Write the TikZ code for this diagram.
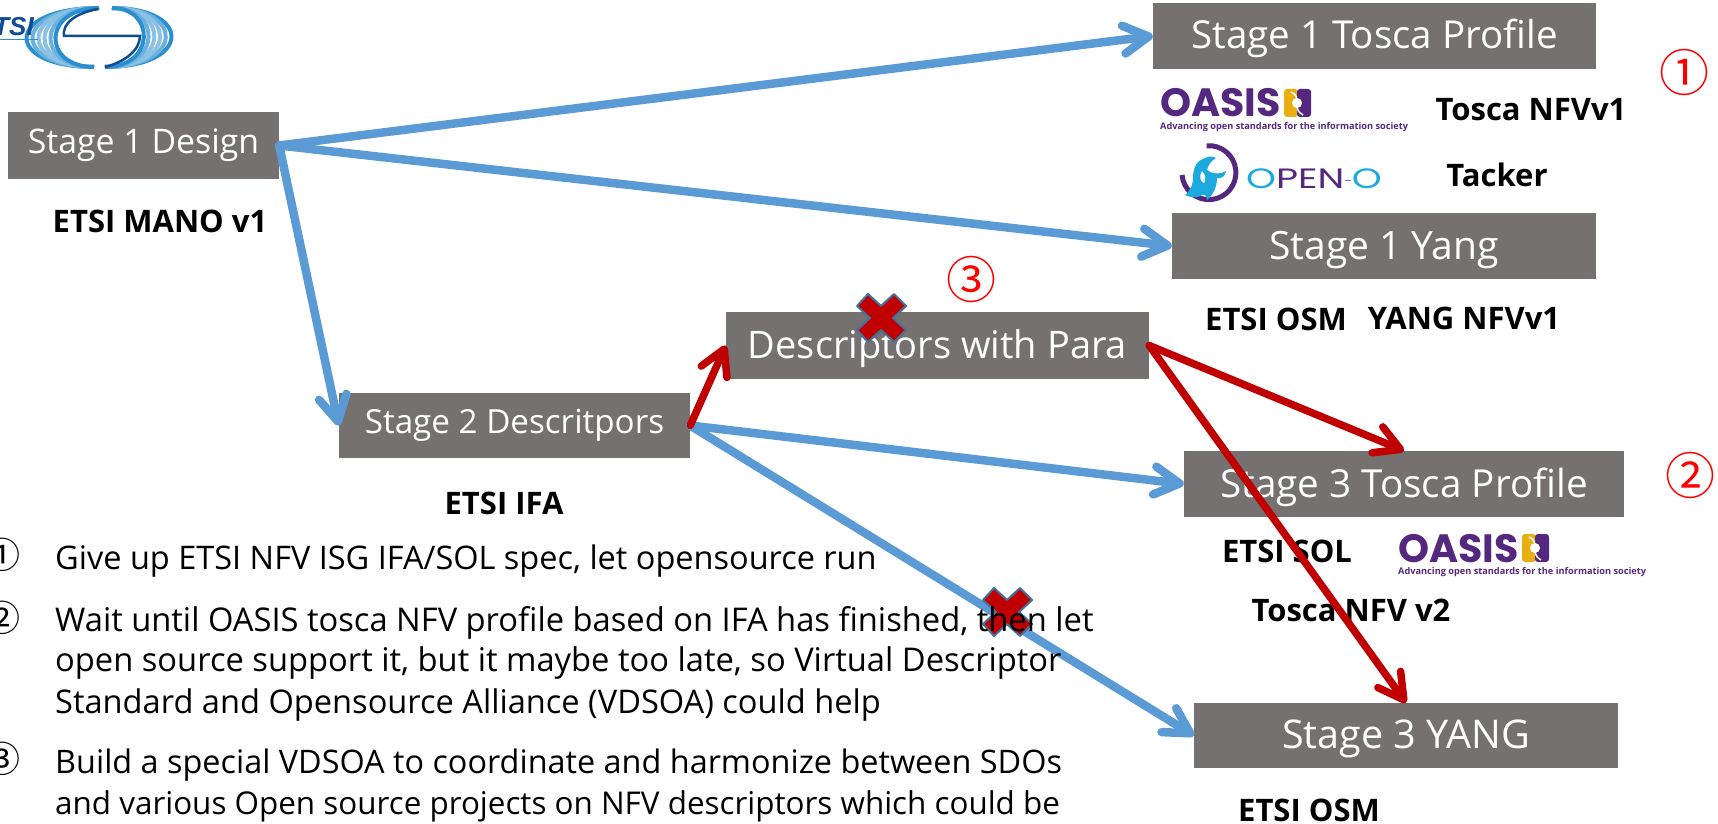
\documentclass[tikz,border=0pt]{standalone}
\usepackage{fontspec}
\setmainfont{Open Sans}
\newfontfamily\circfont{Noto Sans CJK SC}
\newfontfamily\geofont{Poppins}
\newfontfamily\etsifont{Liberation Sans}
\usetikzlibrary{arrows.meta}
\definecolor{boxgrey}{HTML}{767171}
\definecolor{lineblue}{HTML}{5B9BD5}
\definecolor{linered}{HTML}{C00000}
\definecolor{oasispurple}{HTML}{55287F}
\definecolor{oasisgold}{HTML}{E8AE12}
\definecolor{opencyan}{HTML}{1CA9DE}
\definecolor{etsinavy}{HTML}{0F4C94}
\definecolor{etsiblue}{HTML}{2A8FCF}
\definecolor{crossedge}{HTML}{41719C}
\tikzset{
  x=1pt,y=-1pt,
  stagebox/.style={fill=boxgrey,text=white,inner sep=0pt,text height=26pt,text depth=0pt,font=\fontsize{#1}{46}\selectfont},
  upperbox/.style={fill=boxgrey,text=white,inner sep=0pt,font=\fontsize{#1}{40}\selectfont},
  boldlabel/.style={inner sep=0pt,text=black,font=\fontsize{31}{36}\selectfont\bfseries},
  rednum/.style={inner sep=0pt,text=red,font=\fontsize{50}{56}\selectfont\circfont},
  listnum/.style={inner sep=0pt,text=black,font=\fontsize{36}{40}\selectfont\circfont},
  listline/.style={inner sep=0pt,anchor=base west,text=black,font=\fontsize{#1}{38}\selectfont},
  bluearrow/.style={draw=lineblue,line width=8.5pt,line cap=round,-{Straight Barb[round,length=25pt,width=28pt]}},
  redarrow/.style={draw=linered,line width=7.5pt,line cap=round,-{Straight Barb[round,length=25pt,width=28pt]}},
  crossmark/.pic={\path[fill=linered,draw=crossedge,line width=2pt,line join=round]
    (-13,-24)--(-24,-12)--(-11,0)--(-24,12)--(-13,24)--(0,12)--(13,24)--(25,12)--(12,0)--(25,-12)--(13,-24)--(0,-12)--cycle;},
  oasislogo/.pic={
    \node[inner sep=0pt,anchor=base west,text=oasispurple,font=\fontsize{39.5}{42}\selectfont\geofont\bfseries] (-word) at (0,26) {OASIS};
    \path[fill=oasisgold,rounded corners=3pt] (124,-2) rectangle (138,26);
    \path[fill=oasispurple,rounded corners=3pt] (137,-2) rectangle (151,26);
    \path[fill=white] (137,12) circle (5);
    \path[draw=white,line width=1.5pt] (131,1) .. controls (143,6) and (131,18) .. (143,24);
    \node[inner sep=0pt,anchor=base west,text=oasispurple,font=\fontsize{9.2}{11}\selectfont\bfseries] (-tag) at (0,38) {Advancing open standards for the information society};
  },
}
\begin{document}
\begin{tikzpicture}
\useasboundingbox (0,0) rectangle (1718,824);
\clip (0,0) rectangle (1718,824);

% ETSI logo
\foreach \r/\c in {72/etsiblue,66/etsiblue!70,60/etsiblue!55,54/etsiblue!55,48/etsiblue!70,43/etsiblue}{
  \draw[\c,line width=4pt] (99,8) .. controls ({99-\r*1.33},8) and ({99-\r*1.33},67) .. (94,67);
  \draw[\c,line width=4pt] (112,8) .. controls ({101+\r*1.27},8) and ({101+\r*1.27},67) .. (105,67);
}
\draw[etsinavy,line width=2.5pt] (98,9) .. controls (75,13) and (62,24) .. (64,36) -- (140,36) .. controls (140,50) and (125,62) .. (105,67);
\node[inner sep=0pt,anchor=base east,text=etsinavy,font=\fontsize{26}{28}\selectfont\etsifont\bfseries\itshape] (etsiword) at (34,36) {ETSI};
\draw[etsiblue,line width=1.5pt] (0,39.5) -- (38,39.5);

% stage boxes
\node[stagebox=38.5,minimum width=443pt,minimum height=66pt] (tosca1) at (1374.5,36) {Stage 1 Tosca Profile};
\node[upperbox=33.8,minimum width=271pt,minimum height=67pt] (design) at (143.5,145.5) {Stage 1 Design};
\node[stagebox=39,minimum width=424pt,minimum height=66pt] (yang1) at (1384,246) {Stage 1 Yang};
\node[stagebox=38,minimum width=423pt,minimum height=67pt] (desc) at (937.5,345.5) {Descriptors with Para};
\node[upperbox=33.2,minimum width=351pt,minimum height=65pt,yshift=-1pt] (stage2) at (514.5,424.5) {Stage 2 Descritpors};
\node[stagebox=38.6,minimum width=440pt,minimum height=66pt] (tosca3) at (1404,484) {Stage 3 Tosca Profile};
\node[stagebox=39.5,minimum width=424pt,minimum height=65pt] (yang3) at (1406,735.5) {Stage 3 YANG};

% bold labels
\node[boldlabel] (lmano) at (160,221) {ETSI MANO v1};
\node[boldlabel] (lifa) at (504,503) {ETSI IFA};
\node[boldlabel] (ltoscav1) at (1531,110) {Tosca NFVv1};
\node[boldlabel] (ltacker) at (1497,175) {Tacker};
\node[boldlabel] (losm1) at (1276,319) {ETSI OSM};
\node[boldlabel] (lyangv1) at (1464,318) {YANG NFVv1};
\node[boldlabel] (lsol) at (1287,551) {ETSI SOL};
\node[boldlabel] (ltoscav2) at (1351,610) {Tosca NFV v2};
\node[boldlabel] (losm3) at (1309,810) {ETSI OSM};

% red numbers
\node[rednum] (n1) at (1684,73) {①};
\node[rednum] (n2) at (1690,475) {②};
\node[rednum] (n3) at (971,279) {③};

% OASIS logos
\pic (oasisa) at (1160,91) {oasislogo};
\pic (oasisb) at (1398,536) {oasislogo};

% OPEN-O logo
\draw[oasispurple,line width=5pt] (1182,175) arc[start angle=175,end angle=-95,radius=27];
\path[fill=opencyan] (1185,195) .. controls (1191,190) and (1193,184) .. (1193,178)
  .. controls (1193,166) and (1198,160) .. (1205,158) .. controls (1209,156) and (1213,156) .. (1216,158)
  .. controls (1211,161) and (1208,165) .. (1207,170) .. controls (1212,174) and (1220,175) .. (1226,171)
  .. controls (1225,176) and (1222,179) .. (1217,178) .. controls (1217,187) and (1213,195) .. (1207,200)
  .. controls (1207,196) and (1205,194) .. (1202,195) .. controls (1198,198) and (1191,198) .. (1185,195) -- cycle;
\path[fill=white] (1202,171) .. controls (1199,176) and (1200,182) .. (1204,183) .. controls (1206,180) and (1206,175) .. (1202,171) -- cycle;
\node[inner sep=0pt,anchor=base west,font=\fontsize{28}{30}\selectfont\geofont] (openword) at (1246,188)
  {\scalebox{1.36}[1]{\textcolor{opencyan}{O}\textcolor{oasispurple}{PEN}\textcolor{oasispurple}{\fontsize{10}{10}\selectfont\raisebox{4pt}{-}}\textcolor{opencyan}{O}}};

% connectors
\draw[bluearrow] (design.east) -- (tosca1.west);
\draw[bluearrow] (design.east) -- (yang1.west);
\draw[bluearrow] (design.east) -- (stage2.west);
\draw[bluearrow] (stage2.east) -- (tosca3.west);
\draw[bluearrow] (stage2.east) -- (yang3.west);
\draw[redarrow] (stage2.east) -- (desc.west);
\draw[redarrow] (desc.east) -- (tosca3.north);
\draw[redarrow] (desc.east) -- (yang3.north);

% crosses
\pic at (881,318) {crossmark};
\pic at (1007,612) {crossmark};

% list
\node[listnum] (i1) at (3,555) {①};
\node[listline=32.5] (t1) at (55,569) {Give up ETSI NFV ISG IFA/SOL spec, let opensource run};
\node[listnum] (i2) at (3,618) {②};
\node[listline=32.7] (t2a) at (55,631) {Wait until OASIS tosca NFV profile based on IFA has finished, then let};
\node[listline=32.7] (t2b) at (55,671) {open source support it, but it maybe too late, so Virtual Descriptor};
\node[listline=32.6] (t2c) at (55,713) {Standard and Opensource Alliance (VDSOA) could help};
\node[listnum] (i3) at (3,759) {③};
\node[listline=32.4] (t3a) at (55,773) {Build a special VDSOA to coordinate and harmonize between SDOs};
\node[listline=31.4] (t3b) at (55,814) {and various Open source projects on NFV descriptors which could be};
\end{tikzpicture}
\end{document}
